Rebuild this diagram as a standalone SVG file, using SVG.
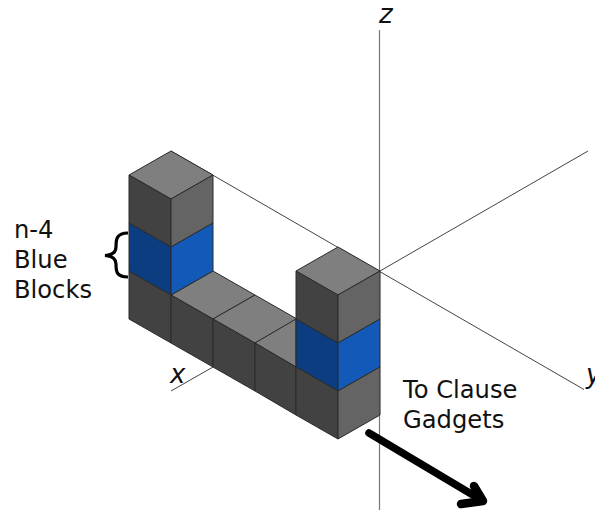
<svg xmlns="http://www.w3.org/2000/svg" width="595" height="510" viewBox="0 0 595 510">
<style>
.ax{stroke:#444;stroke-width:1;fill:none}
.f{stroke:#2b2b2b;stroke-width:1;stroke-linejoin:round}
.top{fill:#7f7f7f}.l{fill:#424242}.r{fill:#646464}.bl{fill:#0b3d80}.br{fill:#1259b8}
.t{font-family:"DejaVu Sans",sans-serif;font-size:24.2px;fill:#111}
.a{font-family:"DejaVu Sans",sans-serif;font-size:26px;font-style:italic;fill:#111}
</style>
<g id="connectors">
<path class="ax" style="stroke:#777;stroke-width:1.200" d="M379.500 30V510"/>
<path class="ax" d="M171 151L584 389.500M380 271L588 151M171 391L213 367"/>
<path d="M369 433L478 498" fill="none" stroke="#000" stroke-width="7.500" stroke-linecap="round"/>
<path d="M474 486L483 501L461 504" fill="none" stroke="#000" stroke-width="8.500" stroke-linecap="round" stroke-linejoin="round"/>
</g>
<g id="floor">
<path class="f top" d="M171 295L213 271L255 295L213 319Z"/>
<path class="f top" d="M213 319L255 295L297 319L255 343Z"/>
<path class="f top" d="M255 343L296 319V367Z"/>
<path class="f l" d="M129 271L171 295V343L129 319Z"/>
<path class="f l" d="M171 295L213 319V367L171 343Z"/>
<path class="f l" d="M213 319L255 343V391L213 367Z"/>
<path class="f l" d="M255 343L296 367V415L255 391Z"/>
</g>
<g id="column-left">
<path class="f top" d="M171 151L213 175L171 199L129 175Z"/>
<path class="f l" d="M129 175L171 199V247L129 223Z"/>
<path class="f r" d="M171 199L213 175V223L171 247Z"/>
<path class="f bl" d="M129 223L171 247V295L129 271Z"/>
<path class="f br" d="M171 247L213 223V271L171 295Z"/>
</g>
<g id="column-right">
<path class="f top" d="M338 247L380 271L338 295L296 271Z"/>
<path class="f l" d="M296 271L338 295V343L296 319Z"/>
<path class="f r" d="M338 295L380 271V319L338 343Z"/>
<path class="f bl" d="M296 319L338 343V391L296 367Z"/>
<path class="f br" d="M338 343L380 319V367L338 391Z"/>
<path class="f l" d="M296 367L338 391V439L296 415Z"/>
<path class="f r" d="M338 391L380 367V415L338 439Z"/>
</g>
<g id="labels">
<text class="a" x="379" y="23">z</text>
<text class="a" x="170" y="383">x</text>
<text class="a" x="586" y="383">y</text>
<text class="t" x="14" y="238">n-4</text>
<text class="t" x="14" y="268">Blue</text>
<text class="t" x="14" y="298">Blocks</text>
<text class="t" x="403" y="398">To Clause</text>
<text class="t" x="403" y="428">Gadgets</text>
<path d="M128 233C116 233 116 240 116 247C116 253 112 255 105 255.500C112 256 116 258 116 264C116 271 116 277 128 277" fill="none" stroke="#000" stroke-width="3.200"/>
</g>
</svg>
